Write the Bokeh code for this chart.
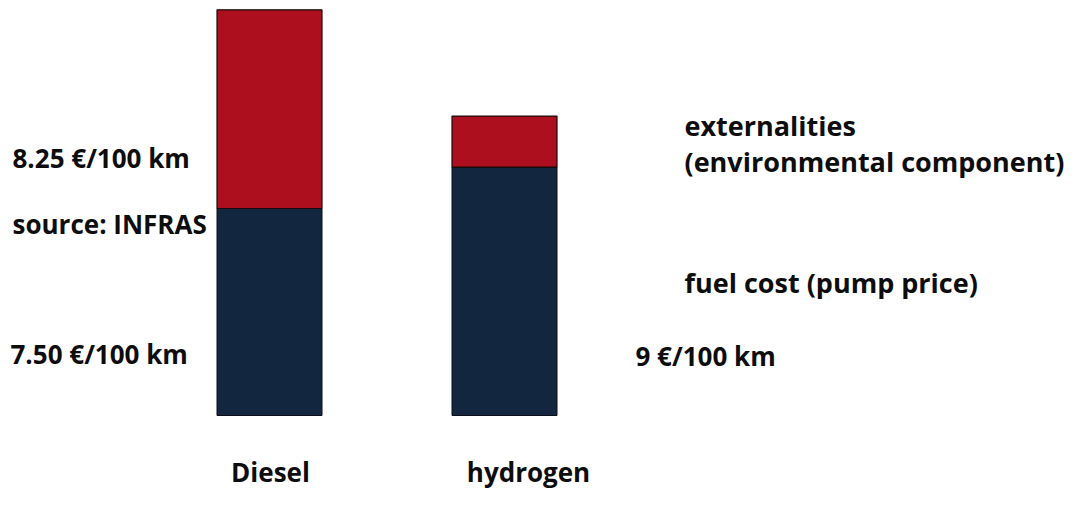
from bokeh.plotting import figure
from bokeh.models import Range1d, ColumnDataSource
from bokeh.core.properties import value
from bokeh.embed import file_html
from bokeh.resources import INLINE

# data
categories = ["Diesel", "hydrogen"]
fuel_cost = [7.5, 9.0]
externalities = [7.2, 1.85]
fuel_labels = ["7.50 €/100 km", "9 €/100 km"]
ext_label = "8.25 €/100 km"
source_label = "source: INFRAS"
legend_lines = ["externalities", "(environmental component)", "fuel cost (pump price)"]

# layout (pixel-based x scale, value-based y scale)
W, H = 1067, 497
PX = 27.6  # pixels per unit
base_px = 415  # baseline from top of figure
y0 = -(H - base_px) / PX
y1 = base_px / PX
bar_x = [269, 504]
bar_w = 105

def yv(sy):  # pixel from top -> data value
    return (base_px - sy) / PX

p = figure(width=W, height=H, output_backend="svg", toolbar_location=None,
           x_range=Range1d(0, W), y_range=Range1d(y0, y1), min_border=0)
p.axis.visible = False
p.grid.visible = False
p.outline_line_color = None
p.background_fill_color = "white"

src = ColumnDataSource(dict(x=bar_x, fuel=fuel_cost, ext=externalities,
                            top=[f + e for f, e in zip(fuel_cost, externalities)]))
p.vbar(x="x", bottom=0, top="fuel", width=bar_w, source=src,
       fill_color="#13263F", line_color="#0a0f18", line_width=1)
p.vbar(x="x", bottom="fuel", top="top", width=bar_w, source=src,
       fill_color="#AD0F1E", line_color="#1a0a0a", line_width=1.2)

font = value("Open Sans")
def txt(xs, ys, texts, size, align="left"):
    p.text(x=xs, y=ys, text=texts, text_font=font, text_font_size=size,
           text_font_style="bold", text_color="#0d0d0d",
           text_align=align, text_baseline="middle")

txt([12, 12, 10, 635],
    [yv(157), yv(223), yv(353), yv(355)],
    [ext_label, source_label, fuel_labels[0], fuel_labels[1]], "26px")
txt([684] * 3, [yv(125), yv(161), yv(282)], legend_lines, "27px")
txt([270, 528], [yv(471)] * 2, categories, "26px", align="center")

open("out.html", "w").write(file_html(p, INLINE))
